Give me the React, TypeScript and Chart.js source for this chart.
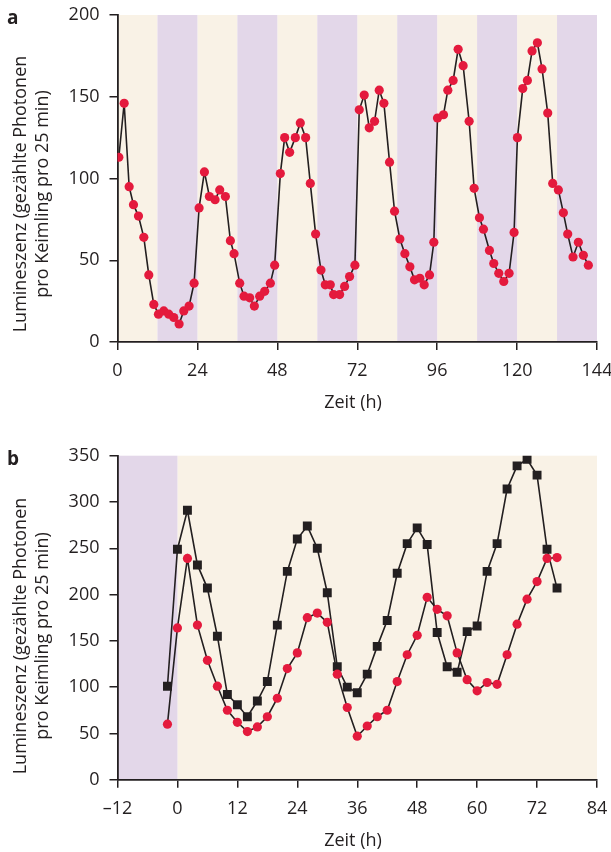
import React, { useEffect, useRef } from "react";
import { Chart, registerables } from "chart.js";

Chart.register(...registerables);

// ---------- Panel a data ----------
const timeA = [0.4, 2.0, 3.5, 4.8, 6.3, 7.9, 9.4, 10.9, 12.3, 13.9, 15.4, 16.9, 18.5, 19.9, 21.5, 23.0, 24.5, 26.1, 27.6, 29.3, 30.7, 32.4, 33.9, 35.0, 36.7, 38.0, 39.7, 41.1, 42.7, 44.2, 45.9, 47.2, 48.9, 50.2, 51.7, 53.4, 54.9, 56.5, 57.9, 59.5, 61.1, 62.4, 63.9, 64.9, 66.7, 68.2, 69.7, 71.3, 72.6, 74.1, 75.6, 77.2, 78.6, 80.0, 81.7, 83.2, 84.8, 86.3, 87.8, 89.2, 90.8, 92.1, 93.7, 95.0, 96.1, 97.9, 99.2, 100.8, 102.3, 103.8, 105.6, 107.1, 108.7, 109.9, 111.7, 113.0, 114.5, 116.0, 117.6, 119.1, 120.1, 121.7, 123.1, 124.5, 126.1, 127.5, 129.2, 130.7, 132.4, 133.9, 135.2, 136.8, 138.4, 139.9, 141.4];
const lumA = [113, 146, 95, 84, 77, 64, 41, 23, 17, 19, 17, 15, 11, 19, 22, 36, 82, 104, 89, 87, 93, 89, 62, 54, 36, 28, 27, 22, 28, 31, 36, 47, 103, 125, 116, 125, 134, 125, 97, 66, 44, 35, 35, 29, 29, 34, 40, 47, 142, 151, 131, 135, 154, 146, 110, 80, 63, 54, 46, 38, 39, 35, 41, 61, 137, 139, 154, 160, 179, 169, 135, 94, 76, 69, 56, 48, 42, 37, 42, 67, 125, 155, 160, 178, 183, 167, 140, 97, 93, 79, 66, 52, 61, 53, 47];
const lightA = [[0, 12], [24, 36], [48, 60], [72, 84], [96, 108], [120, 132]];
const darkA = [[12, 24], [36, 48], [60, 72], [84, 96], [108, 120], [132, 144]];
const xRangeA = [0, 144, 24];
const yRangeA = [0, 200, 50];

// ---------- Panel b data ----------
const timeB = [-2, 0, 2, 4, 6, 8, 10, 12, 14, 16, 18, 20, 22, 24, 26, 28, 30, 32, 34, 36, 38, 40, 42, 44, 46, 48, 50, 52, 54, 56, 58, 60, 62, 64, 66, 68, 70, 72, 74, 76];
const blackB = [101, 249, 291, 232, 207, 155, 92, 81, 68, 85, 106, 167, 225, 260, 274, 250, 202, 122, 100, 94, 114, 144, 172, 223, 255, 272, 254, 159, 122, 116, 160, 166, 225, 255, 314, 339, 346, 329, 249, 207];
const redB = [60, 164, 239, 167, 129, 101, 75, 62, 52, 57, 68, 88, 120, 137, 175, 180, 170, 114, 78, 47, 58, 68, 75, 106, 135, 156, 197, 184, 177, 137, 108, 96, 105, 103, 135, 168, 195, 214, 239, 240];
const lightB = [[0, 84]];
const darkB = [[-12, 0]];
const xRangeB = [-12, 84, 12];
const yRangeB = [0, 350, 50];

const yTitleLines = ["Lumineszenz (gezählte Photonen", "pro Keimling pro 25 min)"];
const xTitle = "Zeit (h)";

const FONT = "'Open Sans', 'Noto Sans', sans-serif";
const INK = "#231f20";
const RED = "#e41a3d";
const CREAM = "#f9f2e6";
const PURPLE = "#e3d7e9";

const bandPlugin = {
  id: "bands",
  beforeDraw(chart: any, _args: any, opts: any) {
    const { ctx, chartArea: a, scales } = chart;
    const x = scales.x;
    ctx.save();
    const fill = (list: number[][], color: string) => {
      ctx.fillStyle = color;
      for (const [s, e] of list) {
        const x0 = x.getPixelForValue(s);
        const x1 = x.getPixelForValue(e);
        ctx.fillRect(x0, a.top, x1 - x0, a.bottom - a.top);
      }
    };
    fill(opts.light || [], CREAM);
    fill(opts.dark || [], PURPLE);
    ctx.restore();
  },
};

const textPlugin = {
  id: "texts",
  afterDraw(chart: any, _args: any, opts: any) {
    const { ctx, chartArea: a } = chart;
    ctx.save();
    ctx.fillStyle = INK;
    ctx.font = `18px ${FONT}`;
    ctx.textAlign = "center";
    ctx.textBaseline = "alphabetic";
    const baseXs = [25.5, 47.5];
    opts.yLines.forEach((line: string, i: number) => {
      ctx.save();
      ctx.translate(baseXs[i], opts.yCenter);
      ctx.rotate(-Math.PI / 2);
      ctx.fillText(line, 0, 0);
      ctx.restore();
    });
    ctx.fillText(opts.xTitle, 353, a.bottom + 66);
    ctx.font = `bold 19px ${FONT}`;
    ctx.textAlign = "left";
    ctx.fillText(opts.letter, 7, opts.letterY);
    ctx.restore();
  },
};

type PanelProps = {
  top: number;
  height: number;
  plotTop: number;
  plotBottom: number;
  xRange: number[];
  yRange: number[];
  datasets: any[];
  light: number[][];
  dark: number[][];
  letter: string;
  letterY: number;
  yCenter: number;
};

function Panel(p: PanelProps) {
  const ref = useRef<HTMLCanvasElement | null>(null);
  useEffect(() => {
    if (!ref.current) return;
    const tickFont = { family: FONT, size: 18 };
    const chart = new Chart(ref.current, {
      type: "line",
      data: { datasets: p.datasets },
      plugins: [bandPlugin, textPlugin],
      options: {
        animation: false,
        responsive: false,
        maintainAspectRatio: false,
        layout: { padding: { top: p.plotTop, right: 14, left: 0, bottom: 0 } },
        plugins: {
          legend: { display: false },
          tooltip: { enabled: false },
          bands: { light: p.light, dark: p.dark },
          texts: {
            yLines: yTitleLines,
            xTitle,
            letter: p.letter,
            letterY: p.letterY,
            yCenter: p.yCenter,
          },
        } as any,
        scales: {
          x: {
            type: "linear",
            min: p.xRange[0],
            max: p.xRange[1],
            afterFit: (s: any) => {
              s.height = p.height - p.plotBottom;
              s.paddingLeft = 0;
              s.paddingRight = 0;
            },
            ticks: {
              stepSize: p.xRange[2],
              autoSkip: false,
              maxRotation: 0,
              padding: 10,
              color: INK,
              font: tickFont,
              callback: (v: any) => (Number(v) < 0 ? "\u2013" + Math.abs(Number(v)) : String(v)),
            },
            grid: {
              display: true,
              drawOnChartArea: false,
              drawTicks: true,
              tickLength: 8,
              color: INK,
              lineWidth: 1.5,
            },
            border: { display: true, color: INK, width: 1.8 },
          },
          y: {
            type: "linear",
            min: p.yRange[0],
            max: p.yRange[1],
            afterFit: (s: any) => {
              s.width = 117.5;
              s.paddingTop = 0;
              s.paddingBottom = 0;
            },
            ticks: {
              stepSize: p.yRange[2],
              padding: 10,
              color: INK,
              font: tickFont,
            },
            grid: {
              display: true,
              drawOnChartArea: false,
              drawTicks: true,
              tickLength: 8,
              color: INK,
              lineWidth: 1.5,
            },
            border: { display: true, color: INK, width: 1.8 },
          },
        },
      } as any,
    });
    return () => chart.destroy();
  }, []);
  return (
    <canvas
      ref={ref}
      width={611}
      height={p.height}
      style={{ position: "absolute", left: 0, top: p.top, width: 611, height: p.height }}
    />
  );
}

const toPoints = (xs: number[], ys: number[]) => xs.map((x, i) => ({ x, y: ys[i] }));

export default function App() {
  const dsA = [
    {
      data: toPoints(timeA, lumA),
      borderColor: INK,
      borderWidth: 1.6,
      pointStyle: "circle",
      pointRadius: 4.6,
      pointBackgroundColor: RED,
      pointBorderWidth: 0,
      tension: 0,
    },
  ];
  const dsB = [
    {
      data: toPoints(timeB, redB),
      borderColor: INK,
      borderWidth: 1.6,
      pointStyle: "circle",
      pointRadius: 4.6,
      pointBackgroundColor: RED,
      pointBorderWidth: 0,
      tension: 0,
    },
    {
      data: toPoints(timeB, blackB),
      borderColor: INK,
      borderWidth: 1.6,
      pointStyle: "rect",
      pointRadius: 6.3,
      pointBackgroundColor: INK,
      pointBorderWidth: 0,
      tension: 0,
    },
  ];
  return (
    <div style={{ position: "absolute", left: 0, top: 0, width: 611, height: 852, background: "#fff" }}>
      <Panel
        top={0}
        height={426}
        plotTop={15}
        plotBottom={342}
        xRange={xRangeA}
        yRange={yRangeA}
        datasets={dsA}
        light={lightA}
        dark={darkA}
        letter="a"
        letterY={24}
        yCenter={194}
      />
      <Panel
        top={426}
        height={426}
        plotTop={29.7}
        plotBottom={353.7}
        xRange={xRangeB}
        yRange={yRangeB}
        datasets={dsB}
        light={lightB}
        dark={darkB}
        letter="b"
        letterY={39}
        yCenter={210}
      />
    </div>
  );
}
